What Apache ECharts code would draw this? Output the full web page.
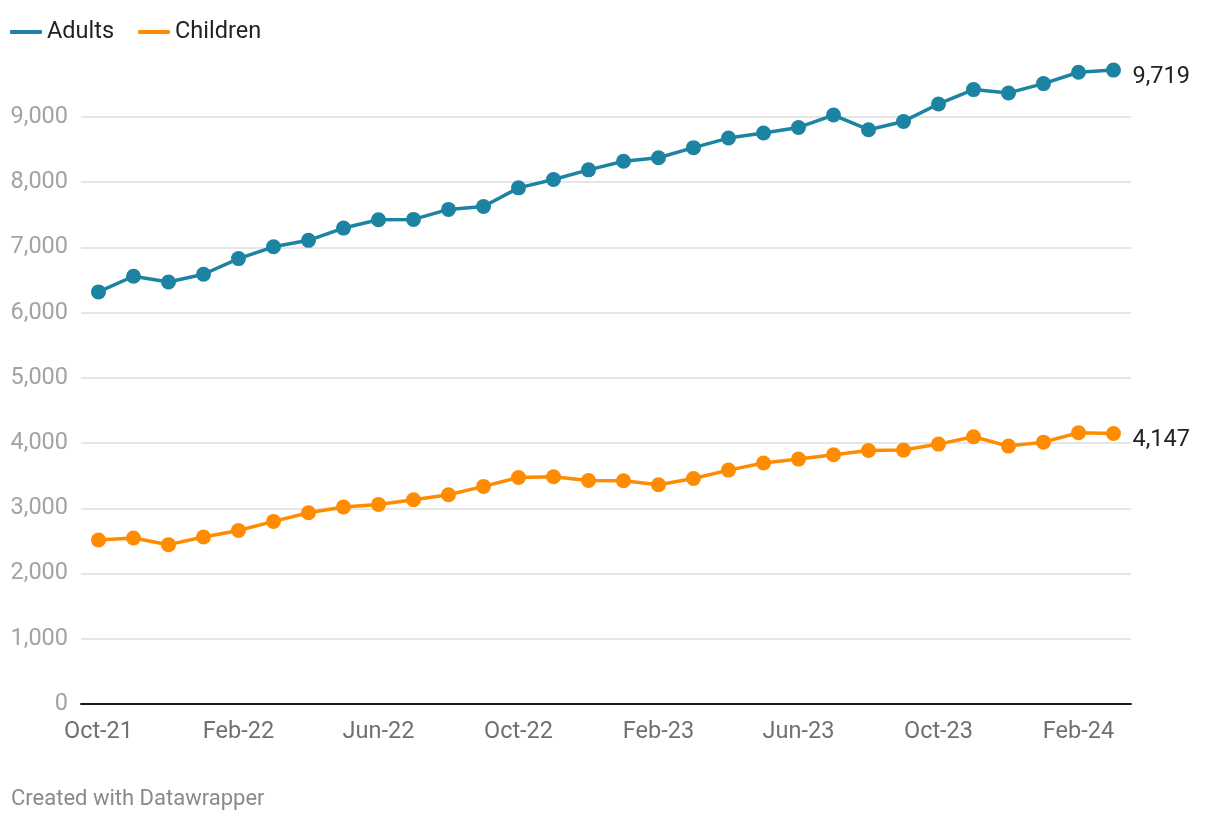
<!DOCTYPE html>
<html>
<head>
<meta charset="utf-8">
<script src="https://cdn.jsdelivr.net/npm/echarts@6/dist/echarts.min.js"></script>
<style>
html,body{margin:0;padding:0;background:#fff;}
#chart{width:1220px;height:820px;}
</style>
</head>
<body>
<div id="chart"></div>
<script>
const months = ["Oct-21","Nov-21","Dec-21","Jan-22","Feb-22","Mar-22","Apr-22","May-22","Jun-22","Jul-22","Aug-22","Sep-22",
  "Oct-22","Nov-22","Dec-22","Jan-23","Feb-23","Mar-23","Apr-23","May-23","Jun-23","Jul-23","Aug-23","Sep-23",
  "Oct-23","Nov-23","Dec-23","Jan-24","Feb-24","Mar-24"];
const adults = [6318,6558,6471,6589,6829,7010,7109,7297,7425,7430,7583,7628,
  7914,8041,8190,8322,8376,8530,8677,8754,8840,9030,8805,8932,
  9200,9420,9369,9512,9686,9719];
const children = [2514,2545,2443,2561,2660,2800,2933,3020,3060,3132,3208,3336,
  3473,3484,3427,3423,3361,3458,3586,3694,3755,3821,3887,3893,
  3985,4097,3954,4015,4158,4147];
const yTicks = [0,1000,2000,3000,4000,5000,6000,7000,8000,9000];

const FONT = 'Roboto';
const FS = 23.5;
const fmt = v => Number(v).toLocaleString('en-US');

const chart = echarts.init(document.getElementById('chart'), null, {renderer:'canvas'});
chart.setOption({
  animation: false,
  backgroundColor: '#ffffff',
  textStyle: {fontFamily: FONT},
  legend: {
    left: 10, top: 20, padding: 0,
    icon: 'roundRect',
    itemWidth: 32, itemHeight: 4, itemGap: 24,
    textStyle: {fontFamily: FONT, fontSize: FS, color: '#222222'},
    data: ['Adults','Children']
  },
  grid: {left: 81, right: 89, top: 117, bottom: 116, containLabel: false},
  xAxis: {
    type: 'category',
    data: months,
    boundaryGap: true,
    axisTick: {show: false},
    axisLine: {show: true, lineStyle: {color: '#1a1a1a', width: 2}},
    axisLabel: {interval: 3, margin: 16, fontFamily: FONT, fontSize: FS, color: '#707070'},
    splitLine: {show: false}
  },
  yAxis: {
    type: 'value',
    min: yTicks[0], max: yTicks[yTicks.length-1], interval: 1000,
    axisLine: {show: false},
    axisTick: {show: false},
    axisLabel: {margin: 13, fontFamily: FONT, fontSize: FS, color: '#a3a3a3', formatter: v => fmt(v)},
    splitLine: {show: true, lineStyle: {color: '#e6e6e6', width: 2}}
  },
  series: [
    {
      name: 'Adults', type: 'line', data: adults, clip: false,
      symbol: 'circle', symbolSize: 15,
      lineStyle: {width: 3.5, color: '#1d83a3'},
      itemStyle: {color: '#1d83a3'},
      endLabel: {show: true, distance: 19, offset: [0, 7], fontFamily: FONT, fontSize: FS, color: '#222222', formatter: p => fmt(p.value)}
    },
    {
      name: 'Children', type: 'line', data: children, clip: false,
      symbol: 'circle', symbolSize: 15,
      lineStyle: {width: 3.5, color: '#ff8c00'},
      itemStyle: {color: '#ff8c00'},
      endLabel: {show: true, distance: 19, offset: [0, 7], fontFamily: FONT, fontSize: FS, color: '#222222', formatter: p => fmt(p.value)}
    }
  ],
  graphic: [{
    type: 'text', left: 11, top: 788,
    style: {text: 'Created with Datawrapper', font: '22px Roboto', fill: '#8a8a8a'}
  }]
});
</script>
</body>
</html>
